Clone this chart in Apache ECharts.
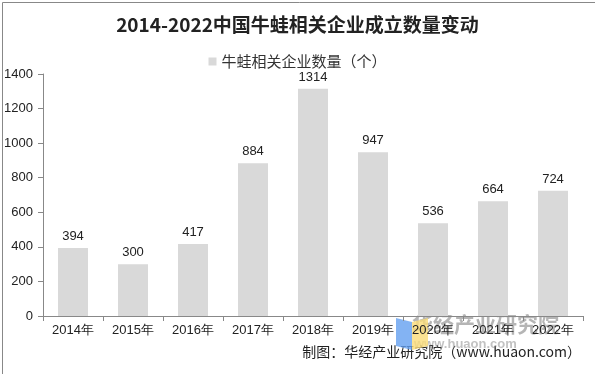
<!DOCTYPE html>
<html><head><meta charset="utf-8">
<script src="https://cdn.jsdelivr.net/npm/echarts@6/dist/echarts.min.js"></script>
<style>html,body{margin:0;padding:0;background:#fff}#c{width:595px;height:374px}</style>
</head><body><div id="c"></div>
<script>
const categories = ['2014年','2015年','2016年','2017年','2018年','2019年','2020年','2021年','2022年'];
const values = [394, 300, 417, 884, 1314, 947, 536, 664, 724];
const seriesName = '牛蛙相关企业数量（个）';
const titleText = '2014-2022中国牛蛙相关企业成立数量变动';
const sourceText = '制图：华经产业研究院（www.huaon.com）';

const chart = echarts.init(document.getElementById('c'), null, {renderer:'canvas'});
chart.setOption({
  animation:false,
  backgroundColor:'#fff',
  title:{text:titleText,left:'center',top:10,textStyle:{fontFamily:'Noto Sans CJK SC',fontSize:19,fontWeight:'bold',color:'#222'}},
  legend:{top:49,left:'center',icon:'rect',itemWidth:8,itemHeight:8,itemGap:4,
    textStyle:{fontFamily:'Noto Sans CJK SC',fontSize:15,color:'#333'},data:[seriesName]},
  grid:{left:43,right:12,top:74,bottom:58},
  xAxis:{type:'category',data:categories,
    axisLine:{lineStyle:{color:'#888'}},
    axisTick:{show:true,alignWithLabel:false,length:5,lineStyle:{color:'#888'}},
    axisLabel:{fontFamily:'Liberation Sans',fontSize:13,color:'#222',margin:8}},
  yAxis:{type:'value',min:0,max:1400,interval:200,
    axisLine:{show:true,lineStyle:{color:'#888'}},
    axisTick:{show:true,length:5,lineStyle:{color:'#888'}},
    splitLine:{show:false},
    axisLabel:{fontFamily:'Liberation Sans',fontSize:13,color:'#222',margin:10,formatter:function(v){return String(v);}}},
  series:[{name:seriesName,type:'bar',data:values,barWidth:'50%',
    itemStyle:{color:'#d9d9d9'},
    label:{show:true,position:'top',distance:5,fontFamily:'Liberation Sans',fontSize:13,color:'#222'}}],
  graphic:[
    {type:'rect',left:0,top:0,shape:{width:594,height:373},style:{fill:'none',stroke:'#888',lineWidth:1},silent:true},
    {type:'text',right:14,top:345,style:{text:sourceText,font:'14px "Noto Sans CJK SC"',fill:'#222'}},
    {type:'text',left:412,top:314,style:{text:'华经产业研究院',font:'bold 21px "Noto Sans CJK SC"',fill:'rgba(120,120,120,0.55)'}},
    {type:'text',left:414,top:338,style:{text:'www.huaon.com',font:'bold 13px "Liberation Sans"',fill:'rgba(120,120,120,0.45)'}},
    {type:'polygon',shape:{points:[[396,318],[412,322],[412,350],[396,346]]},style:{fill:'rgba(100,160,240,0.8)'}},
    {type:'polygon',shape:{points:[[412,322],[428,318],[428,346],[412,350]]},style:{fill:'rgba(250,220,120,0.8)'}}
  ]
});
</script></body></html>
